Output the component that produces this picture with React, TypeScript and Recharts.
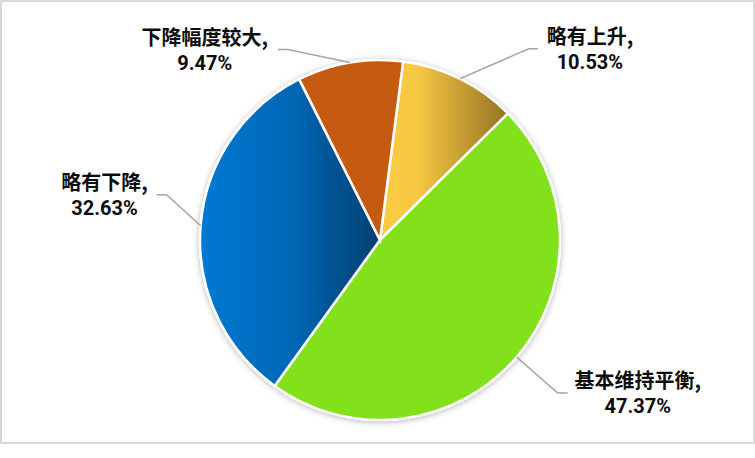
import React from 'react';
import { PieChart, Pie, Cell } from 'recharts';

// share of respondents per trend category (%)
const categories = ['略有上升', '基本维持平衡', '略有下降', '下降幅度较大'];
const shares = [10.53, 47.37, 32.63, 9.47];
const fills = ['url(#gradYellow)', '#82E11A', 'url(#gradBlue)', '#C55A11'];

// label placement: elbow offset from the arc point, horizontal tail, text centre offset from tail end
const labelLayout = [
  { ex: 69, ey: -30, tail: 9, tx: 52 },
  { ex: 41, ey: 36, tail: 10, tx: 70 },
  { ex: -34, ey: -31, tail: -10, tx: -52 },
  { ex: -62, ey: -13, tail: -10, tx: -73 },
];

const data = categories.map((name, i) => ({ name, value: shares[i] }));
const RAD = Math.PI / 180;
const nameFont = '"Noto Sans CJK SC", "Noto Sans", sans-serif';
const valueFont = 'Roboto, "Noto Sans", sans-serif';

const renderLabel = (props: any) => {
  const { cx, cy, midAngle, outerRadius, index, name, value } = props;
  const lay = labelLayout[index];
  const ax = cx + outerRadius * Math.cos(-midAngle * RAD);
  const ay = cy + outerRadius * Math.sin(-midAngle * RAD);
  const bx = ax + lay.ex;
  const by = ay + lay.ey;
  const tx = bx + lay.tail;
  const textX = tx + lay.tx;
  return (
    <g key={`lbl-${index}`}>
      <polyline
        points={`${ax},${ay} ${bx},${by} ${tx},${by}`}
        fill="none"
        stroke="#A6A6A6"
        strokeWidth={1.5}
      />
      <text x={textX} y={by - 5} textAnchor="middle" fontFamily={nameFont} fontWeight="bold" fontSize={20} fill="#0D0D0D">
        {name},
      </text>
      <text x={textX} y={by + 20} textAnchor="middle" fontFamily={valueFont} fontWeight="bold" fontSize={20} fill="#0D0D0D">
        {Number(value).toFixed(2)}%
      </text>
    </g>
  );
};

export default function App() {
  return (
    <div style={{ position: 'absolute', left: 0, top: 0, width: 755, height: 444 }}>
      <PieChart width={755} height={444} margin={{ top: 0, right: 0, bottom: 0, left: 0 }}>
        <defs>
          <linearGradient id="gradYellow" x1="0" y1="0" x2="1" y2="0">
            <stop offset="0" stopColor="#FACB44" />
            <stop offset="0.3" stopColor="#F6C742" />
            <stop offset="1" stopColor="#937224" />
          </linearGradient>
          <linearGradient id="gradBlue" x1="0" y1="0" x2="1" y2="0">
            <stop offset="0" stopColor="#0079D3" />
            <stop offset="0.5" stopColor="#0067B6" />
            <stop offset="1" stopColor="#033F70" />
          </linearGradient>
          <filter id="pieShadow" x="-20%" y="-20%" width="140%" height="140%">
            <feDropShadow dx="0" dy="1" stdDeviation="3" floodColor="#000000" floodOpacity="0.3" />
          </filter>
        </defs>
        <Pie
          data={[{ name: 'bg', value: 1 }]}
          dataKey="value"
          cx={380}
          cy={240}
          outerRadius={181}
          startAngle={90}
          endAngle={-270}
          stroke="none"
          isAnimationActive={false}
          legendType="none"
        >
          <Cell fill="#FFFFFF" filter="url(#pieShadow)" />
        </Pie>
        <Pie
          data={data}
          dataKey="value"
          nameKey="name"
          cx={380}
          cy={240}
          outerRadius={180}
          startAngle={82.6}
          endAngle={-277.4}
          stroke="#FFFFFF"
          strokeWidth={2.5}
          label={renderLabel}
          labelLine={false}
          isAnimationActive={false}
        >
          {data.map((entry, i) => (
            <Cell key={`cell-${i}`} fill={fills[i]} />
          ))}
        </Pie>
      </PieChart>
      <div
        style={{
          position: 'absolute',
          left: 0,
          top: 0,
          width: 755,
          height: 444,
          border: '2px solid #D9D9D9',
          boxSizing: 'border-box',
          pointerEvents: 'none',
        }}
      />
    </div>
  );
}
